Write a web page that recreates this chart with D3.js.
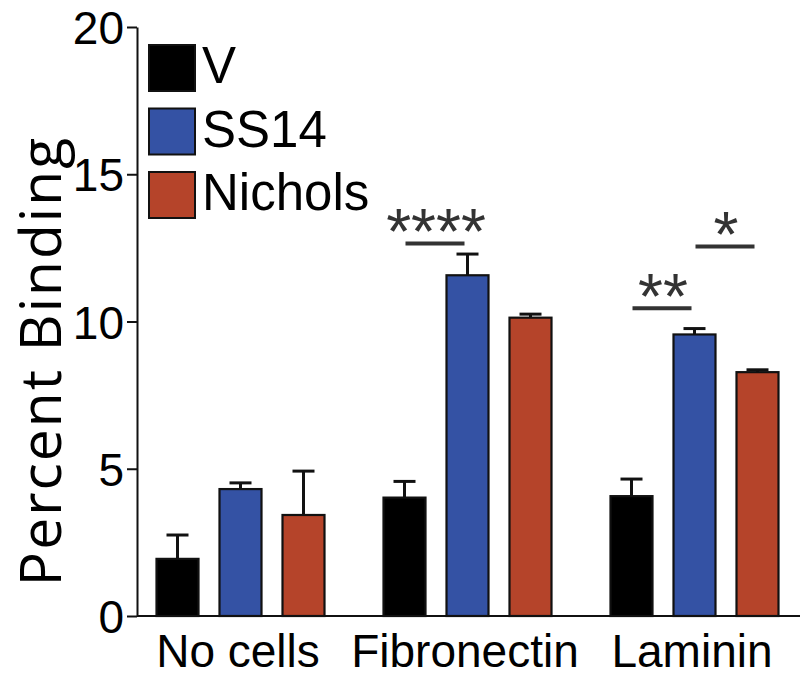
<!DOCTYPE html>
<html>
<head>
<meta charset="utf-8">
<script src="https://cdn.jsdelivr.net/npm/d3@7"></script>
<style>
  html, body { margin: 0; padding: 0; background: #fff; }
  svg { display: block; }
</style>
</head>
<body>
<svg id="chart" width="800" height="676"></svg>
<script>
// ---- data ----
const categories = ["No cells", "Fibronectin", "Laminin"];
const seriesNames = ["V", "SS14", "Nichols"];
const seriesColors = ["#000000", "#3452a4", "#b5442a"];
const valuesV = [1.94, 4.02, 4.07];
const valuesSS14 = [4.31, 11.57, 9.56];
const valuesNichols = [3.43, 10.13, 8.28];
const errV = [0.81, 0.55, 0.58];
const errSS14 = [0.21, 0.72, 0.2];
const errNichols = [1.49, 0.12, 0.08];
const yTicks = [0, 5, 10, 15, 20];
const yLabel = "Percent Binding";
// significance: category, from series, to series, line level (data units), label
const sigCategory = ["Fibronectin", "Laminin", "Laminin"];
const sigFrom = ["V", "V", "SS14"];
const sigTo = ["SS14", "SS14", "Nichols"];
const sigLevel = [12.65, 10.45, 12.55];
const sigLabel = ["****", "**", "*"];

const allValues = [valuesV, valuesSS14, valuesNichols];
const allErr = [errV, errSS14, errNichols];

const svg = d3.select("#chart");
const fontMain = "'Liberation Sans', Arial, Helvetica, sans-serif";

const y = d3.scaleLinear().domain([0, 20]).range([616, 27]);
const xGroup = d3.scalePoint().domain(categories).range([240.5, 694.5]);
const xSub = d3.scaleBand().domain(seriesNames).range([-84, 84]).paddingInner(1 / 3).paddingOuter(0);

const bars = [];
categories.forEach((c, ci) => {
  seriesNames.forEach((s, si) => {
    bars.push({ cat: c, series: s, color: seriesColors[si], value: allValues[si][ci], err: allErr[si][ci] });
  });
});

const barX = d => xGroup(d.cat) + xSub(d.series);
const barCenter = (c, s) => xGroup(c) + xSub(s) + xSub.bandwidth() / 2;

// error bars (drawn first so bar covers lower part)
const eg = svg.append("g");
eg.selectAll("line.stem").data(bars).join("line")
  .attr("x1", d => barX(d) + xSub.bandwidth() / 2)
  .attr("x2", d => barX(d) + xSub.bandwidth() / 2)
  .attr("y1", d => y(d.value))
  .attr("y2", d => y(d.value + d.err))
  .attr("stroke", "#111").attr("stroke-width", 3);
eg.selectAll("line.cap").data(bars).join("line")
  .attr("x1", d => barX(d) + xSub.bandwidth() / 2 - 11)
  .attr("x2", d => barX(d) + xSub.bandwidth() / 2 + 11)
  .attr("y1", d => y(d.value + d.err))
  .attr("y2", d => y(d.value + d.err))
  .attr("stroke", "#111").attr("stroke-width", 3);

// bars
svg.append("g").selectAll("rect").data(bars).join("rect")
  .attr("x", d => barX(d))
  .attr("width", xSub.bandwidth())
  .attr("y", d => y(d.value))
  .attr("height", d => y(0) - y(d.value))
  .attr("fill", d => d.color)
  .attr("stroke", "#111")
  .attr("stroke-width", 2.2);

// y axis
const yAxis = svg.append("g")
  .attr("transform", "translate(137,0)")
  .call(d3.axisLeft(y).tickValues(yTicks).tickSize(10).tickSizeOuter(0).tickPadding(3));
yAxis.select(".domain").attr("stroke", "#111").attr("stroke-width", 2);
yAxis.selectAll(".tick line").attr("stroke", "#111").attr("stroke-width", 2);
yAxis.selectAll(".tick text")
  .attr("font-family", fontMain).attr("font-size", 46).attr("fill", "#000")
  .attr("dy", "0.36em");

// x axis
svg.append("line")
  .attr("x1", 137).attr("x2", 800)
  .attr("y1", y(0)).attr("y2", y(0))
  .attr("stroke", "#111").attr("stroke-width", 2);
const xAxis = svg.append("g")
  .attr("transform", `translate(0,${y(0)})`)
  .call(d3.axisBottom(xGroup).tickSize(0).tickPadding(0));
xAxis.select(".domain").remove();
xAxis.selectAll(".tick text")
  .attr("font-family", fontMain).attr("font-size", 46).attr("fill", "#000")
  .attr("dy", null).attr("y", 51).attr("x", -3);

// y label
svg.append("text")
  .attr("transform", `translate(61,${361}) rotate(-90)`)
  .attr("text-anchor", "middle")
  .attr("font-family", "'Open Sans', sans-serif")
  .attr("font-size", 57)
  .attr("letter-spacing", 2)
  .attr("fill", "#000")
  .text(yLabel);

// legend
const lg = svg.append("g");
seriesNames.forEach((s, i) => {
  const top = 45 + i * 63.5;
  lg.append("rect")
    .attr("x", 149).attr("y", top).attr("width", 46).attr("height", 46)
    .attr("fill", seriesColors[i]).attr("stroke", "#111").attr("stroke-width", 2);
  lg.append("text")
    .attr("x", 202).attr("y", top + 38)
    .attr("font-family", fontMain).attr("font-size", 51).attr("fill", "#000")
    .text(s);
});

// significance
const sg = svg.append("g");
sigLabel.forEach((lab, i) => {
  const xa = barCenter(sigCategory[i], sigFrom[i]);
  const xb = barCenter(sigCategory[i], sigTo[i]);
  const ly = y(sigLevel[i]);
  sg.append("line")
    .attr("x1", xa + 1).attr("x2", xb - 3)
    .attr("y1", ly).attr("y2", ly)
    .attr("stroke", "#333").attr("stroke-width", 4);
  sg.append("text")
    .attr("x", (xa + xb) / 2)
    .attr("y", ly + 11)
    .attr("text-anchor", "middle")
    .attr("font-family", fontMain).attr("font-size", 64).attr("fill", "#333")
    .text(lab);
});
</script>
</body>
</html>
